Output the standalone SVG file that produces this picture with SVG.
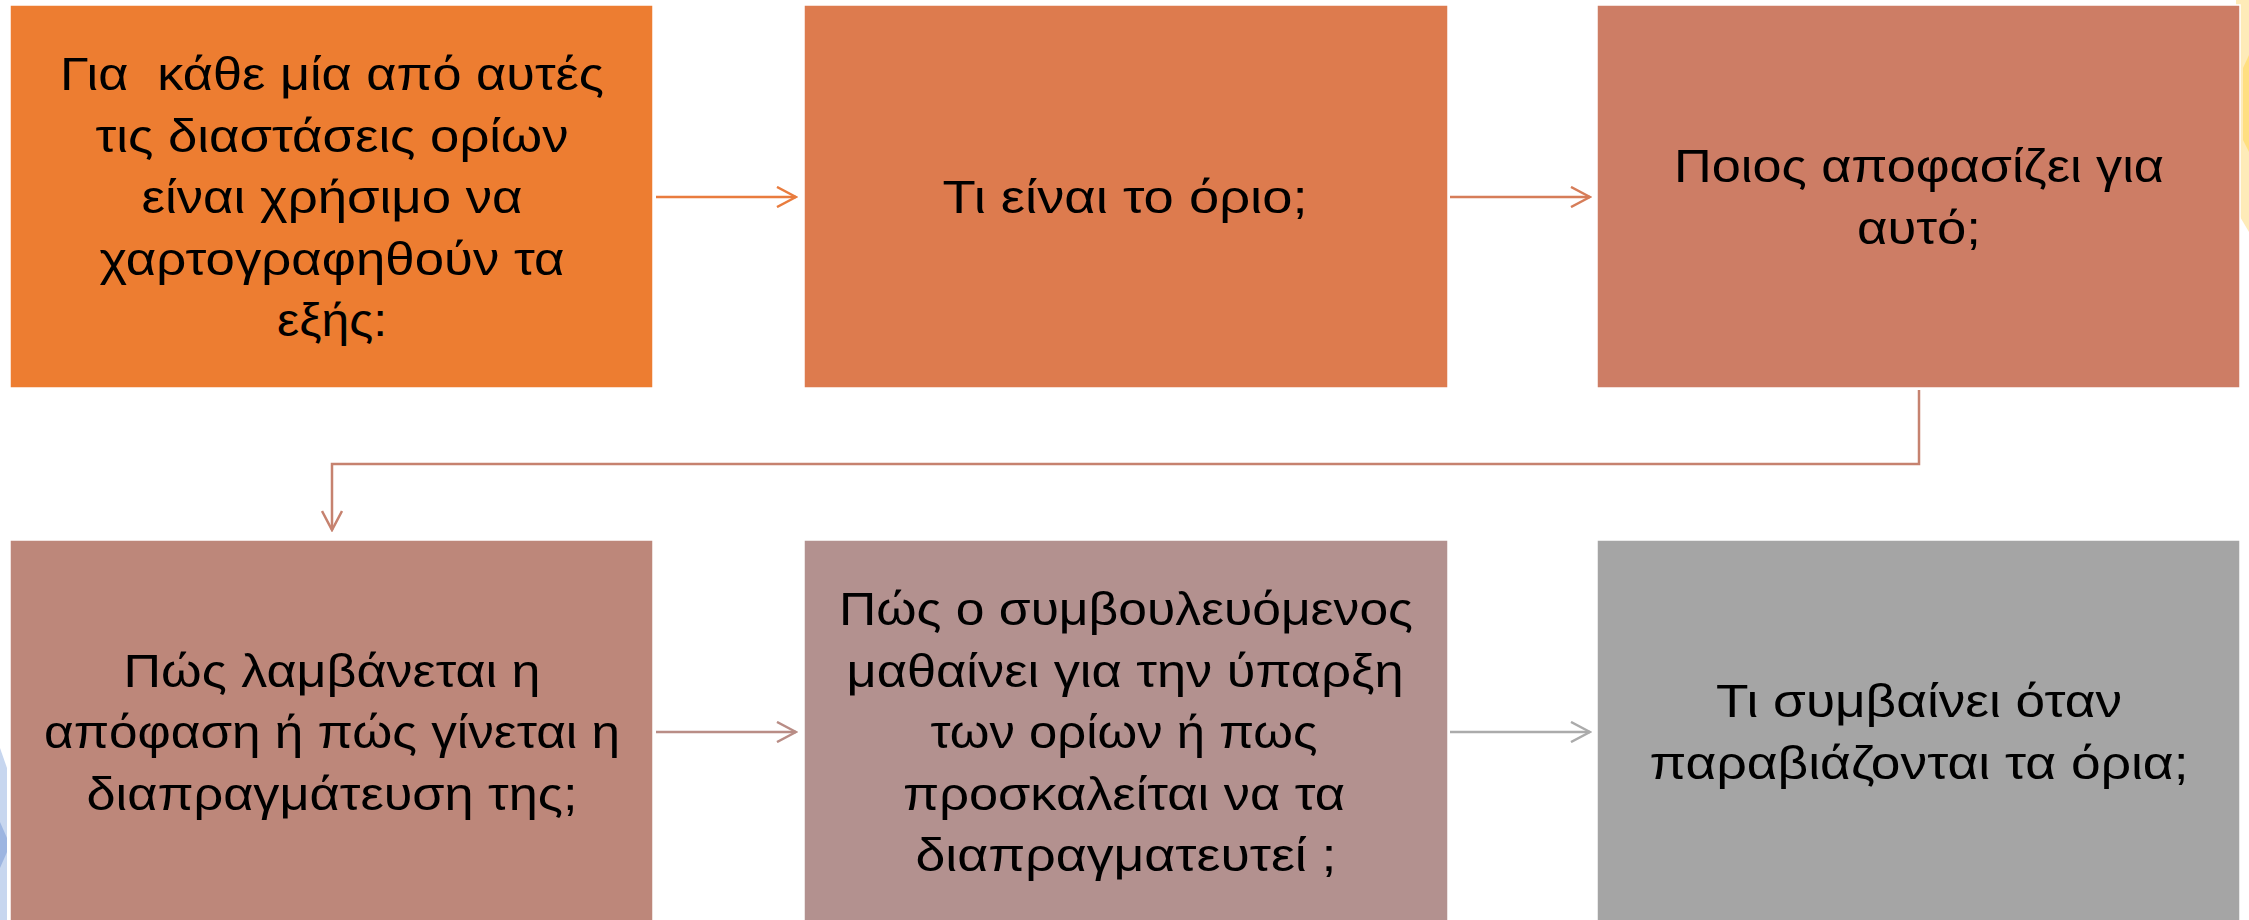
<svg xmlns="http://www.w3.org/2000/svg" width="2249" height="920" viewBox="0 0 2249 920">
<style>
.box{stroke:#ffffff;stroke-width:1.5}
.t{font-family:"Liberation Sans",Arial,sans-serif;font-size:46px;fill:#000000;text-anchor:middle}
.c{fill:none;stroke-width:2.5}
</style>
<defs>
<marker id="m1" viewBox="0 0 22 22" refX="20" refY="11" markerWidth="22" markerHeight="22" markerUnits="userSpaceOnUse" orient="auto"><path d="M1,1 L20,11 L1,21" fill="none" stroke="#E97C3E" stroke-width="2.5"/></marker>
<marker id="m2" viewBox="0 0 22 22" refX="20" refY="11" markerWidth="22" markerHeight="22" markerUnits="userSpaceOnUse" orient="auto"><path d="M1,1 L20,11 L1,21" fill="none" stroke="#D67D59" stroke-width="2.5"/></marker>
<marker id="m3" viewBox="0 0 22 22" refX="20" refY="11" markerWidth="22" markerHeight="22" markerUnits="userSpaceOnUse" orient="auto"><path d="M1,1 L20,11 L1,21" fill="none" stroke="#C6826F" stroke-width="2.5"/></marker>
<marker id="m4" viewBox="0 0 22 22" refX="20" refY="11" markerWidth="22" markerHeight="22" markerUnits="userSpaceOnUse" orient="auto"><path d="M1,1 L20,11 L1,21" fill="none" stroke="#B98D86" stroke-width="2.5"/></marker>
<marker id="m5" viewBox="0 0 22 22" refX="20" refY="11" markerWidth="22" markerHeight="22" markerUnits="userSpaceOnUse" orient="auto"><path d="M1,1 L20,11 L1,21" fill="none" stroke="#ABABAB" stroke-width="2.5"/></marker>
</defs>
<rect x="0" y="0" width="2249" height="920" fill="#ffffff"/>
<g id="decor">
<polygon points="2182,0 2249,0 2249,232 2236,210 2236,0" fill="#FEEBB8"/>
<polygon points="2249,55 2243,68 2243,140 2249,152" fill="#FFDF80"/>
<polygon points="0,748 7,768 7,920 0,920" fill="#C7D6EF"/>
<polygon points="0,822 7,838 7,852 0,868" fill="#9DB5E1"/>
</g>
<g id="connectors">
<line class="c" x1="656" y1="197" x2="796" y2="197" stroke="#E97C3E" marker-end="url(#m1)"/>
<line class="c" x1="1450" y1="197" x2="1590" y2="197" stroke="#D67D59" marker-end="url(#m2)"/>
<polyline class="c" points="1919,390 1919,464 332,464 332,530" stroke="#C6826F" marker-end="url(#m3)"/>
<line class="c" x1="656" y1="732" x2="796" y2="732" stroke="#B98D86" marker-end="url(#m4)"/>
<line class="c" x1="1450" y1="732" x2="1590" y2="732" stroke="#ABABAB" marker-end="url(#m5)"/>
</g>
<g id="node1">
<rect class="box" x="10" y="5" width="643" height="383" fill="#ED7D31"/>
<text class="t" xml:space="preserve"><tspan x="332" y="90" textLength="544" lengthAdjust="spacingAndGlyphs">Για  κάθε μία από αυτές</tspan></text>
<text class="t"><tspan x="332" y="151.5" textLength="473" lengthAdjust="spacingAndGlyphs">τις διαστάσεις ορίων</tspan><tspan x="332" y="213" textLength="381" lengthAdjust="spacingAndGlyphs">είναι χρήσιμο να</tspan><tspan x="332" y="274.5" textLength="465" lengthAdjust="spacingAndGlyphs">χαρτογραφηθούν τα</tspan><tspan x="332" y="336" textLength="110" lengthAdjust="spacingAndGlyphs">εξής:</tspan></text>
</g>
<g id="node2">
<rect class="box" x="804" y="5" width="644" height="383" fill="#DD7B4E"/>
<text class="t"><tspan x="1125" y="213" textLength="365" lengthAdjust="spacingAndGlyphs">Τι είναι το όριο;</tspan></text>
</g>
<g id="node3">
<rect class="box" x="1597" y="5" width="643" height="383" fill="#CD7D65"/>
<text class="t"><tspan x="1919" y="182" textLength="490" lengthAdjust="spacingAndGlyphs">Ποιος αποφασίζει για</tspan><tspan x="1919" y="243.5" textLength="124" lengthAdjust="spacingAndGlyphs">αυτό;</tspan></text>
</g>
<g id="node4">
<rect class="box" x="10" y="540" width="643" height="383" fill="#BD877A"/>
<text class="t"><tspan x="332" y="686.5" textLength="417" lengthAdjust="spacingAndGlyphs">Πώς λαμβάνεται η</tspan><tspan x="332" y="748" textLength="576" lengthAdjust="spacingAndGlyphs">απόφαση ή πώς γίνεται η</tspan><tspan x="332" y="809.5" textLength="491" lengthAdjust="spacingAndGlyphs">διαπραγμάτευση της;</tspan></text>
</g>
<g id="node5">
<rect class="box" x="804" y="540" width="644" height="383" fill="#B3918F"/>
<text class="t"><tspan x="1126" y="625" textLength="574" lengthAdjust="spacingAndGlyphs">Πώς ο συμβουλευόμενος</tspan><tspan x="1125" y="686.5" textLength="557" lengthAdjust="spacingAndGlyphs">μαθαίνει για την ύπαρξη</tspan><tspan x="1124" y="748" textLength="387" lengthAdjust="spacingAndGlyphs">των ορίων ή πως</tspan><tspan x="1124" y="809.5" textLength="442" lengthAdjust="spacingAndGlyphs">προσκαλείται να τα</tspan><tspan x="1126" y="871" textLength="421" lengthAdjust="spacingAndGlyphs">διαπραγματευτεί ;</tspan></text>
</g>
<g id="node6">
<rect class="box" x="1597" y="540" width="643" height="383" fill="#A5A5A5"/>
<text class="t"><tspan x="1919" y="717" textLength="406" lengthAdjust="spacingAndGlyphs">Τι συμβαίνει όταν</tspan><tspan x="1919" y="778.5" textLength="539" lengthAdjust="spacingAndGlyphs">παραβιάζονται τα όρια;</tspan></text>
</g>
</svg>
